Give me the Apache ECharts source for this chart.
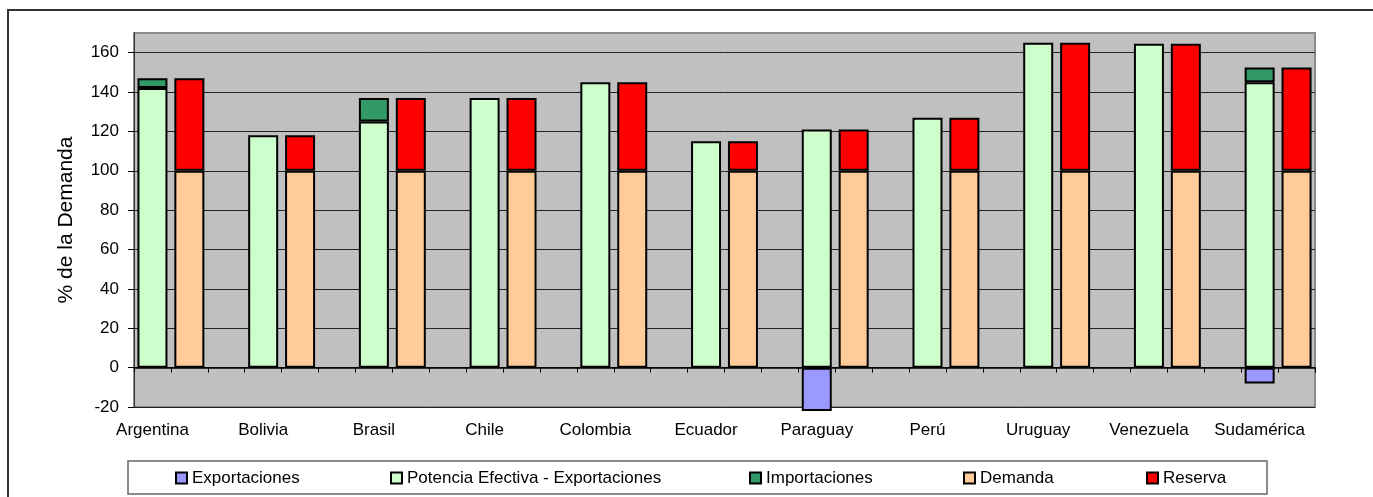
<!DOCTYPE html>
<html>
<head>
<meta charset="utf-8">
<script src="https://cdn.jsdelivr.net/npm/echarts@6/dist/echarts.min.js"></script>
<style>
  html, body { margin: 0; padding: 0; background: #fff; }
  #chart { width: 1373px; height: 497px; }
</style>
</head>
<body>
<div id="chart"></div>
<script>
// Capacidad por país, en % de la demanda
const countries = ['Argentina', 'Bolivia', 'Brasil', 'Chile', 'Colombia', 'Ecuador',
                   'Paraguay', 'Perú', 'Uruguay', 'Venezuela', 'Sudamérica'];
const exportaciones = [null, null, null, null, null, null, -22, null, null, null, -8];
const potencia      = [142, 118, 125, 137, 145, 115, 121, 127, 165, 164.5, 145];
const importaciones = [5, null, 12, null, null, null, null, null, null, null, 7.5];
const demanda       = [100, 100, 100, 100, 100, 100, 100, 100, 100, 100, 100];
const reserva       = [47, 18, 37, 37, 45, 15, 21, 27, 65, 64.5, 52.5];
const yTicks = [-20, 0, 20, 40, 60, 80, 100, 120, 140, 160];

const seriesNames = ['Exportaciones', 'Potencia Efectiva - Exportaciones',
                     'Importaciones', 'Demanda', 'Reserva'];
const seriesColors = ['#9999FF', '#CCFFCC', '#339966', '#FFCC99', '#FF0000'];

// Each country takes three slots on the category axis: supply bar, demand bar, gap.
const slots = [];
countries.forEach((c, i) => {
  slots.push(c, '');
  if (i < countries.length - 1) slots.push('');
});
function place(values, offset) {
  const out = new Array(slots.length).fill(null);
  values.forEach((v, i) => { out[i * 3 + offset] = v; });
  return out;
}

const FONT = '"Liberation Sans", Arial, sans-serif';
const seriesData = [
  place(exportaciones, 0),
  place(potencia, 0),
  place(importaciones, 0),
  place(demanda, 1),
  place(reserva, 1)
];

const legendLeft = [175, 390, 749, 963, 1146];

const chart = echarts.init(document.getElementById('chart'), null, { renderer: 'canvas' });
chart.setOption({
  animation: false,
  backgroundColor: '#ffffff',
  textStyle: { fontFamily: FONT, color: '#000' },
  grid: {
    left: 134, right: 58, top: 33, bottom: 90,
    show: true, backgroundColor: '#C0C0C0', borderColor: '#8C8C8C', borderWidth: 2
  },
  graphic: [
    { type: 'rect', silent: true, z: -1,
      shape: { x: 8, y: 10, width: 1420, height: 620 },
      style: { fill: null, stroke: '#333', lineWidth: 2 } },
    { type: 'rect', silent: true,
      shape: { x: 128, y: 461, width: 1139, height: 33 },
      style: { fill: '#fff', stroke: '#666', lineWidth: 1.5 } }
  ],
  legend: seriesNames.map((n, i) => ({
    data: [n], left: legendLeft[i], top: 468, padding: 0,
    icon: 'rect', itemWidth: 11, itemHeight: 11, z: 10,
    selectedMode: false,
    textStyle: { fontFamily: FONT, fontSize: 17, color: '#000', lineHeight: 20 }
  })),
  xAxis: [
    {
      type: 'category', data: slots, gridIndex: 0,
      axisLine: { onZero: true, lineStyle: { color: '#000', width: 1.5 } },
      axisTick: { show: true, interval: 0, length: 5, lineStyle: { color: '#000', width: 1 } },
      axisLabel: { show: false },
      splitLine: { show: false }
    },
    {
      type: 'category', data: slots, gridIndex: 0, position: 'bottom',
      axisLine: { show: false, onZero: false },
      axisTick: { show: false },
      axisLabel: { interval: 0, margin: 15, fontSize: 17, fontFamily: FONT, color: '#000' },
      splitLine: { show: false }
    }
  ],
  yAxis: {
    type: 'value', min: -20, max: 170, interval: 20,
    name: '% de la Demanda', nameLocation: 'middle', nameGap: 57,
    nameTextStyle: { fontSize: 21, fontFamily: FONT, color: '#000' },
    axisLine: { show: true, lineStyle: { color: '#333', width: 1 } },
    axisTick: { show: true, length: 6, customValues: yTicks, lineStyle: { color: '#000' } },
    axisLabel: { margin: 15, fontSize: 17, fontFamily: FONT, color: '#000', customValues: yTicks },
    splitLine: { show: true, lineStyle: { color: '#222', width: 1 } }
  },
  series: seriesNames.map((n, i) => ({
    name: n, type: 'bar', stack: 'total', xAxisIndex: 0,
    barWidth: 30, clip: false,
    data: seriesData[i],
    itemStyle: { color: seriesColors[i], borderColor: '#000', borderWidth: 2 }
  }))
});
</script>
</body>
</html>
